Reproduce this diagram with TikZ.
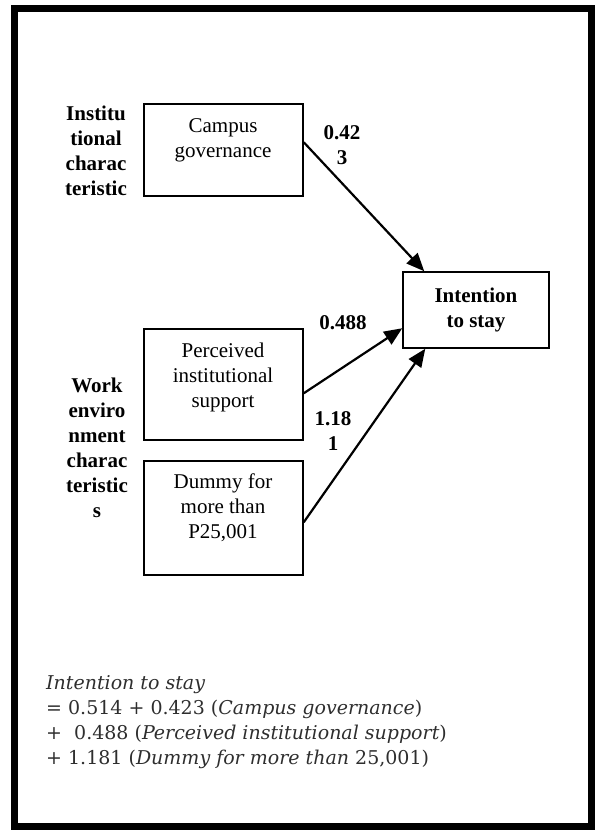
\documentclass[tikz,border=0pt]{standalone}
\usepackage{fontspec}
\setmainfont{Liberation Serif}
\newfontfamily\eqfont{DejaVu Serif}
\usetikzlibrary{arrows.meta,calc}
\tikzset{
  box/.style={draw, line width=1.5pt, minimum width=159pt, inner sep=0pt},
  txt/.style={align=center, font=\fontsize{21}{25}\selectfont, inner sep=0pt},
  btxt/.style={align=center, font=\fontsize{21}{25}\selectfont\bfseries, inner sep=0pt},
  arr/.style={line width=2.2pt, -{Triangle[length=18pt,width=15pt]}},
  eq/.style={align=left, anchor=west, inner sep=0pt, text=black!82, font=\eqfont\fontsize{19}{25}\selectfont}
}
\begin{document}
\begin{tikzpicture}[x=1pt,y=-1pt]
\useasboundingbox (0,0) rectangle (600,830);
\draw[line width=7pt] (14.5,8) rectangle (591,826.5);
% boxes
\node[box, minimum height=92pt] (cg) at (223.5,150) {};
\node[txt] (cgt) at (223,140) {Campus\\governance};
\node[box, minimum height=111pt] (pis) at (223.5,384.5) {};
\node[txt] (pist) at (223,377) {Perceived\\institutional\\support};
\node[box, minimum height=114pt] (dm) at (223.5,518) {};
\node[txt] (dmt) at (223,508) {Dummy for\\more than\\P25,001};
\node[draw, line width=1.5pt, minimum width=146pt, minimum height=76pt, inner sep=0pt,
      align=center, font=\fontsize{21}{25}\selectfont\bfseries] (int) at (476,310) {Intention\\to stay};
% group labels
\node[btxt] (inst) at (96,151) {Institu\\tional\\charac\\teristic};
\node[btxt] (work) at (97,448) {Work\\enviro\\nment\\charac\\teristic\\s};
% arrows
\draw[arr] ($(cg.north east)+(0,39)$) -- ($(int.north west)+(22,0)$);
\draw[arr] ($(pis.north east)+(0,65)$) -- ($(int.north west)+(0,57)$);
\draw[arr] ($(dm.north east)+(0,62)$) -- ($(int.south west)+(23,0)$);
% coefficients
\node[btxt] (c1) at (342,145) {0.42\\3};
\node[btxt] (c2) at (343,323) {0.488};
\node[btxt] (c3) at (333,431) {1.18\\1};
% equation
\node[eq] (eqn) at (46,722) {\itshape Intention to stay\\
= 0.514 + 0.423 (\textit{Campus governance})\\
+\ \ 0.488 (\textit{Perceived institutional support})\\
+ 1.181 (\textit{Dummy for more than} 25,001)};
\end{tikzpicture}
\end{document}
